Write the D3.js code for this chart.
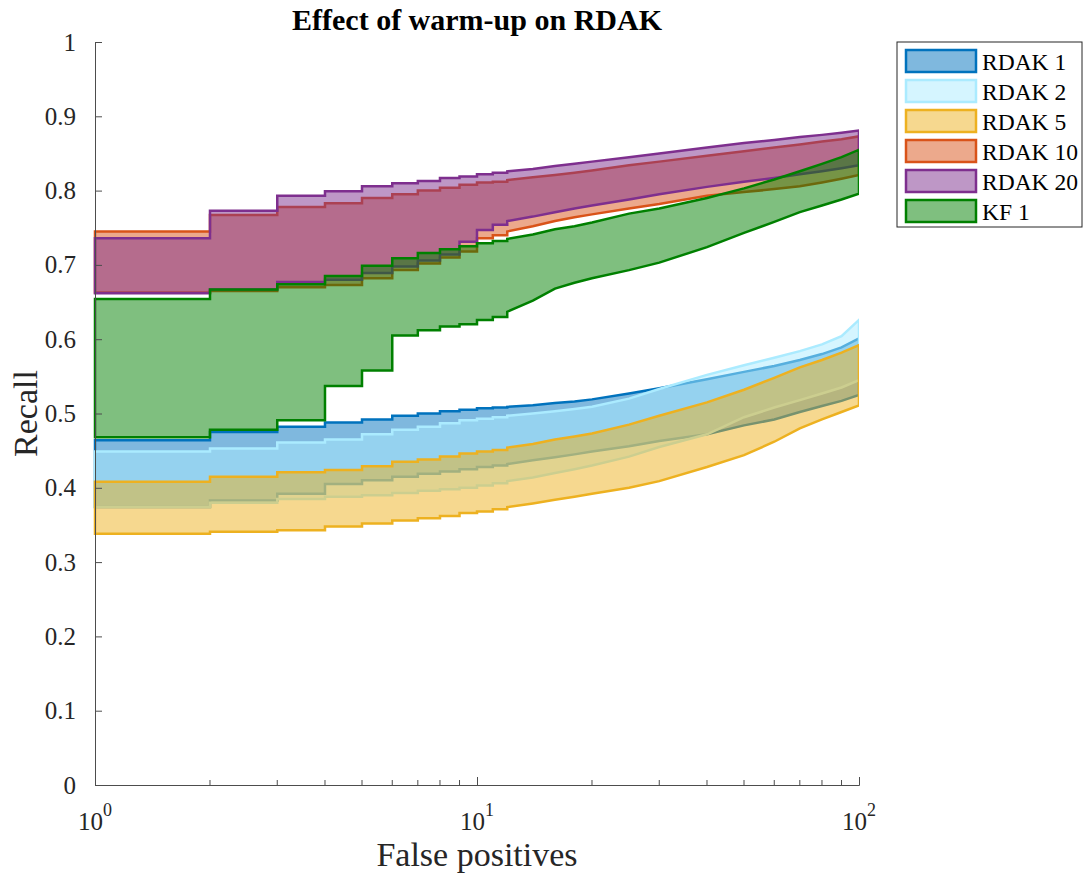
<!DOCTYPE html>
<html lang="en">
<head>
  <meta charset="UTF-8">
  <title>Effect of warm-up on RDAK</title>
  <script src="https://d3js.org/d3.v7.min.js"></script>
  <style>
    * { margin: 0; padding: 0; }
    body { background: #fff; width: 1089px; height: 875px; overflow: hidden; }
    svg { font-family: 'Liberation Serif', 'Times New Roman', serif; }
  </style>
</head>
<body>
  <div id="chart"></div>

  <script>
    // false-positive sample points (steps between consecutive integers)
    const fp = [1, 2, 3, 4, 5, 6, 7, 8, 9, 10, 11, 12, 14, 16, 18, 20, 25, 30, 40, 50, 60, 70, 80, 90, 100];

    const rdak1Upper  = [0.464, 0.475, 0.482, 0.488, 0.492, 0.497, 0.500, 0.503, 0.505, 0.507, 0.508, 0.509, 0.511, 0.514, 0.516, 0.519, 0.527, 0.534, 0.546, 0.556, 0.564, 0.572, 0.580, 0.589, 0.601];
    const rdak1Lower  = [0.374, 0.383, 0.392, 0.405, 0.410, 0.415, 0.419, 0.422, 0.425, 0.428, 0.430, 0.432, 0.437, 0.441, 0.445, 0.449, 0.456, 0.463, 0.472, 0.484, 0.492, 0.502, 0.510, 0.517, 0.525];
    const rdak2Upper  = [0.449, 0.453, 0.461, 0.465, 0.472, 0.478, 0.482, 0.487, 0.491, 0.493, 0.495, 0.497, 0.500, 0.503, 0.506, 0.509, 0.520, 0.533, 0.552, 0.565, 0.575, 0.584, 0.593, 0.604, 0.626];
    const rdak2Lower  = [0.374, 0.380, 0.385, 0.388, 0.390, 0.393, 0.396, 0.398, 0.400, 0.403, 0.406, 0.409, 0.414, 0.420, 0.425, 0.430, 0.442, 0.455, 0.472, 0.495, 0.508, 0.518, 0.527, 0.535, 0.545];
    const rdak5Upper  = [0.408, 0.415, 0.421, 0.424, 0.429, 0.435, 0.438, 0.442, 0.446, 0.449, 0.451, 0.454, 0.459, 0.465, 0.469, 0.473, 0.485, 0.497, 0.515, 0.532, 0.548, 0.562, 0.572, 0.582, 0.592];
    const rdak5Lower  = [0.338, 0.341, 0.343, 0.348, 0.352, 0.356, 0.359, 0.362, 0.366, 0.368, 0.371, 0.374, 0.379, 0.384, 0.388, 0.392, 0.400, 0.409, 0.428, 0.444, 0.462, 0.480, 0.492, 0.502, 0.511];
    const rdak10Upper = [0.745, 0.767, 0.778, 0.783, 0.790, 0.795, 0.800, 0.804, 0.808, 0.811, 0.812, 0.814, 0.818, 0.821, 0.824, 0.827, 0.834, 0.839, 0.847, 0.853, 0.858, 0.862, 0.866, 0.869, 0.873];
    const rdak10Lower = [0.663, 0.665, 0.670, 0.673, 0.682, 0.693, 0.702, 0.710, 0.718, 0.736, 0.740, 0.745, 0.752, 0.759, 0.764, 0.768, 0.776, 0.782, 0.793, 0.798, 0.802, 0.806, 0.811, 0.816, 0.821];
    const rdak20Upper = [0.736, 0.773, 0.793, 0.799, 0.806, 0.810, 0.813, 0.817, 0.819, 0.822, 0.824, 0.826, 0.829, 0.833, 0.836, 0.839, 0.845, 0.850, 0.858, 0.864, 0.868, 0.872, 0.875, 0.878, 0.881];
    const rdak20Lower = [0.662, 0.667, 0.677, 0.680, 0.689, 0.698, 0.706, 0.714, 0.731, 0.747, 0.754, 0.759, 0.765, 0.771, 0.776, 0.780, 0.788, 0.795, 0.805, 0.812, 0.817, 0.822, 0.826, 0.830, 0.834];
    const kf1Upper    = [0.654, 0.667, 0.674, 0.685, 0.699, 0.709, 0.716, 0.721, 0.725, 0.729, 0.732, 0.735, 0.741, 0.748, 0.752, 0.757, 0.769, 0.776, 0.790, 0.803, 0.815, 0.826, 0.836, 0.845, 0.855];
    const kf1Lower    = [0.468, 0.478, 0.491, 0.537, 0.558, 0.605, 0.612, 0.617, 0.620, 0.626, 0.630, 0.637, 0.652, 0.668, 0.676, 0.682, 0.693, 0.703, 0.724, 0.743, 0.758, 0.771, 0.780, 0.788, 0.796];

    const seriesNames = ["RDAK 1", "RDAK 2", "RDAK 5", "RDAK 10", "RDAK 20", "KF 1"];
    const seriesColors = ["#0072BD", "#ABEBFF", "#EDB120", "#D95319", "#7E2F8E", "#008000"];
    const upperBounds = [rdak1Upper, rdak2Upper, rdak5Upper, rdak10Upper, rdak20Upper, kf1Upper];
    const lowerBounds = [rdak1Lower, rdak2Lower, rdak5Lower, rdak10Lower, rdak20Lower, kf1Lower];

    const yTicks = [0, 0.1, 0.2, 0.3, 0.4, 0.5, 0.6, 0.7, 0.8, 0.9, 1];
    const xTicks = [1, 10, 100];

    const width = 1089, height = 875;
    const margin = {top: 42, right: 230, bottom: 90, left: 95};

    const svg = d3.select("#chart").append("svg")
      .attr("width", width)
      .attr("height", height);

    const x = d3.scaleLog().domain([1, 100]).range([margin.left, width - margin.right]);
    const y = d3.scaleLinear().domain([0, 1]).range([height - margin.bottom, margin.top]);

    // clip so the right edge of each patch is cut at x = 100
    svg.append("clipPath").attr("id", "plot-clip")
      .append("rect")
      .attr("x", x(1) - 3).attr("y", y(1))
      .attr("width", x(100) - x(1) + 3).attr("height", y(0) - y(1));

    // step between consecutive integers, straight segments elsewhere
    const stepPoints = (xs, ys) => {
      const pts = [];
      xs.forEach((v, i) => {
        pts.push([v, ys[i]]);
        if (i < xs.length - 1 && xs[i + 1] - v === 1) pts.push([xs[i + 1], ys[i]]);
      });
      return pts;
    };

    const line = d3.line()
      .x(d => x(d[0]))
      .y(d => y(d[1]));

    const plot = svg.append("g").attr("clip-path", "url(#plot-clip)");

    seriesNames.forEach((name, i) => {
      const top = stepPoints(fp, upperBounds[i]);
      const bottom = stepPoints(fp, lowerBounds[i]).reverse();
      plot.append("path")
        .datum(top.concat(bottom))
        .attr("d", d => line(d) + "Z")
        .attr("fill", seriesColors[i])
        .attr("fill-opacity", 0.5)
        .attr("stroke", seriesColors[i])
        .attr("stroke-width", 2.5)
        .attr("stroke-linejoin", "miter");
    });

    // axes (MATLAB style: ticks inside, no box)
    const axisColor = "#4d4d4d";

    const yAxis = svg.append("g")
      .attr("transform", `translate(${x(1)},0)`)
      .call(d3.axisLeft(y).tickValues(yTicks).tickSize(-7).tickPadding(19)
        .tickFormat(d => d3.format("")(+d.toFixed(1))));
    yAxis.select(".domain").attr("stroke", axisColor);
    yAxis.selectAll(".tick line").attr("stroke", axisColor);
    yAxis.selectAll(".tick text")
      .attr("fill", "#262626")
      .style("font-family", "'Liberation Serif', serif")
      .style("font-size", "25px");

    const xMinor = [];
    [1, 10].forEach(dec => { for (let k = 2; k <= 9; k++) xMinor.push(dec * k); });

    const xAxis = svg.append("g")
      .attr("transform", `translate(0,${y(0)})`)
      .call(d3.axisBottom(x).tickValues(xTicks).tickSize(-8).tickFormat(() => ""));
    xAxis.select(".domain").attr("stroke", axisColor);
    xAxis.selectAll(".tick line").attr("stroke", axisColor);

    svg.append("g").selectAll("line")
      .data(xMinor)
      .join("line")
      .attr("x1", d => x(d)).attr("x2", d => x(d))
      .attr("y1", y(0)).attr("y2", y(0) - 5)
      .attr("stroke", axisColor);

    const xLabels = svg.append("g").selectAll("text")
      .data(xTicks)
      .join("text")
      .attr("x", d => x(d))
      .attr("y", y(0) + 45)
      .attr("text-anchor", "middle")
      .attr("fill", "#262626")
      .style("font-size", "25px");
    xLabels.append("tspan").text("10");
    xLabels.append("tspan")
      .attr("dy", -14)
      .style("font-size", "18px")
      .text(d => Math.round(Math.log10(d)));

    // titles
    svg.append("text")
      .attr("x", (x(1) + x(100)) / 2)
      .attr("y", 30)
      .attr("text-anchor", "middle")
      .attr("font-weight", "bold")
      .style("font-size", "30px")
      .text("Effect of warm-up on RDAK");

    svg.append("text")
      .attr("x", (x(1) + x(100)) / 2)
      .attr("y", 866)
      .attr("text-anchor", "middle")
      .attr("fill", "#262626")
      .style("font-size", "34px")
      .text("False positives");

    svg.append("text")
      .attr("transform", `translate(37,${(y(0) + y(1)) / 2}) rotate(-90)`)
      .attr("text-anchor", "middle")
      .attr("fill", "#262626")
      .style("font-size", "34px")
      .text("Recall");

    // legend
    const legend = svg.append("g").attr("transform", "translate(897,42)");
    legend.append("rect")
      .attr("width", 185).attr("height", 185)
      .attr("fill", "#fff")
      .attr("stroke", "#262626")
      .attr("stroke-width", 1);

    const items = legend.selectAll("g.item")
      .data(seriesNames)
      .join("g")
      .attr("class", "item")
      .attr("transform", (d, i) => `translate(0,${19 + i * 30})`);

    items.append("rect")
      .attr("x", 9).attr("y", -11)
      .attr("width", 70).attr("height", 22)
      .attr("fill", (d, i) => seriesColors[i])
      .attr("fill-opacity", 0.5)
      .attr("stroke", (d, i) => seriesColors[i])
      .attr("stroke-width", 2.5);

    items.append("text")
      .attr("x", 85).attr("y", 8.5)
      .style("font-size", "23.5px")
      .text(d => d);
  </script>
</body>
</html>
